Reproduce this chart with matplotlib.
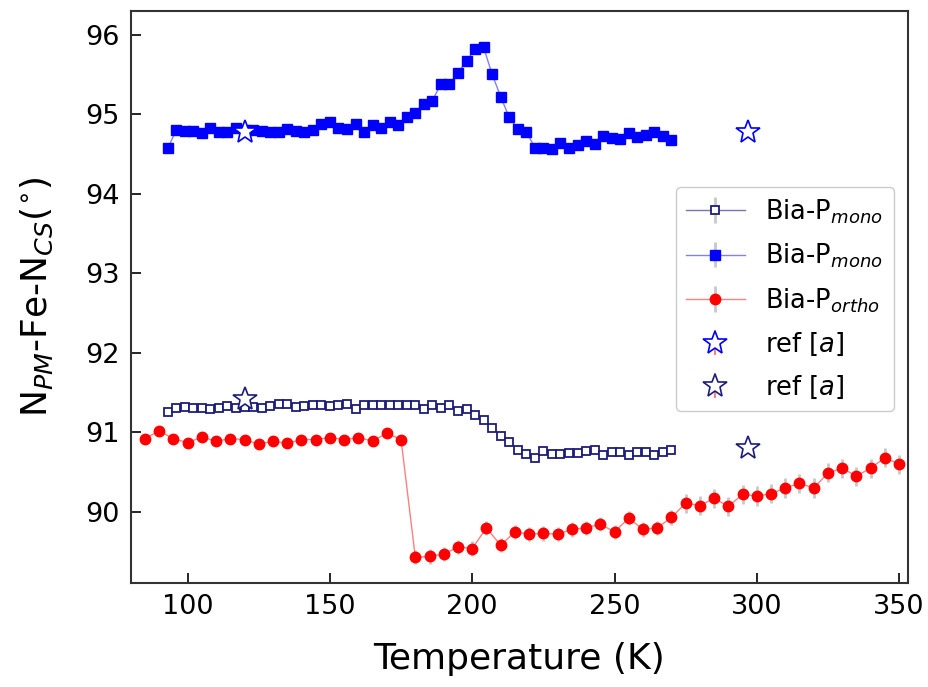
import numpy as np
import matplotlib
matplotlib.use("Agg")
import matplotlib.pyplot as plt

# temperatures (K)
T_mono = np.arange(93, 271, 3)
T_ortho = np.arange(85, 351, 5)

# open squares (navy)
mono_open = [91.26, 91.31, 91.32, 91.31, 91.31, 91.29, 91.31, 91.33, 91.31, 91.32,
             91.32, 91.31, 91.33, 91.36, 91.36, 91.32, 91.33, 91.35, 91.34, 91.33,
             91.34, 91.36, 91.29, 91.35, 91.35, 91.35, 91.35, 91.35, 91.34, 91.34,
             91.29, 91.35, 91.30, 91.35, 91.27, 91.29, 91.22, 91.15, 91.06, 90.95,
             90.88, 90.78, 90.73, 90.68, 90.76, 90.73, 90.73, 90.74, 90.74, 90.77,
             90.78, 90.71, 90.75, 90.75, 90.71, 90.75, 90.75, 90.71, 90.75, 90.78]
mono_open_err = [0.03] * len(mono_open)

# filled squares (blue)
mono_fill = [94.57, 94.80, 94.79, 94.79, 94.76, 94.82, 94.78, 94.78, 94.83, 94.80,
             94.80, 94.79, 94.78, 94.78, 94.81, 94.79, 94.77, 94.80, 94.87, 94.90,
             94.83, 94.81, 94.87, 94.78, 94.86, 94.83, 94.90, 94.86, 94.96, 95.01,
             95.13, 95.17, 95.38, 95.38, 95.52, 95.67, 95.82, 95.84, 95.50, 95.22,
             94.96, 94.81, 94.78, 94.58, 94.57, 94.56, 94.64, 94.58, 94.61, 94.66,
             94.63, 94.72, 94.70, 94.69, 94.76, 94.71, 94.74, 94.78, 94.73, 94.68]
mono_fill_err = [0.04] * len(mono_fill)

# ortho (red circles)
ortho = [90.92, 91.02, 90.92, 90.87, 90.94, 90.89, 90.92, 90.91, 90.85, 90.89,
         90.86, 90.91, 90.91, 90.935, 90.91, 90.935, 90.89, 90.99, 90.91,
         89.43, 89.44, 89.47, 89.56, 89.54, 89.80, 89.58, 89.75, 89.72, 89.73,
         89.72, 89.78, 89.80, 89.845, 89.75, 89.92, 89.78, 89.80, 89.93,
         90.11, 90.08, 90.17, 90.07, 90.22, 90.20, 90.23, 90.30, 90.36, 90.30,
         90.49, 90.55, 90.45, 90.55, 90.68, 90.60]
ortho_err = [0.05] * 19 + [0.09] * 19 + [0.12] * 16

# reference values [a]
T_ref = [120, 297]
ref_fill = [94.78, 94.78]
ref_open = [91.42, 90.80]
ref_err = [0.05, 0.05]

fig = plt.figure(figsize=(9.29, 6.87), dpi=100)
ax = fig.add_axes([0.1407, 0.1518, 0.8363, 0.8326])

ecol = '#c8c8c8'
navy = '#1c1c7a'
l1 = ax.errorbar(T_mono, mono_open, yerr=mono_open_err, fmt='-s', color=navy,
                 mfc='white', mec=navy, ms=6.3, mew=1.3, lw=1,
                 ecolor=ecol, elinewidth=2, label=r'Bia-P$_{mono}$')
l1[0].set_color((0.11, 0.11, 0.48, 0.6))
l1[0].set_markeredgecolor(navy)
l2 = ax.errorbar(T_mono, mono_fill, yerr=mono_fill_err, fmt='-s', color='#0000ff',
                 ms=6.8, lw=1, ecolor=ecol, elinewidth=2, label=r'Bia-P$_{mono}$')
l2[0].set_color((0, 0, 1, 0.5))
l2[0].set_markeredgecolor('#0000ff')
l2[0].set_markerfacecolor('#0000ff')
l3 = ax.errorbar(T_ortho, ortho, yerr=ortho_err, fmt='-o', color='#ff0000',
                 ms=7.5, lw=1, ecolor=ecol, elinewidth=2, label=r'Bia-P$_{ortho}$')
l3[0].set_color((1, 0, 0, 0.5))
l3[0].set_markeredgecolor('#ff0000')
l3[0].set_markerfacecolor('#ff0000')
ax.errorbar(T_ref, ref_fill, yerr=ref_err, fmt='*', mfc='white', mec='#0000ff',
            ms=18, mew=1.2, ecolor='#ff8080', elinewidth=1.5, label=r'ref [$a$]')
ax.errorbar(T_ref, ref_open, yerr=ref_err, fmt='*', mfc='white', mec=navy,
            ms=18, mew=1.2, ecolor='#ff8080', elinewidth=1.5, label=r'ref [$a$]')

ax.set_xlim(80, 353)
ax.set_ylim(89.11, 96.30)
ax.set_xticks([100, 150, 200, 250, 300, 350])
ax.set_yticks([90, 91, 92, 93, 94, 95, 96])
ax.tick_params(direction='in', length=7, width=1.2, labelsize=19.5, pad=8)
for s in ax.spines.values():
    s.set_linewidth(1.5)
    s.set_color('#333333')

ax.set_xlabel('Temperature (K)', fontsize=26, labelpad=16)
ax.set_ylabel(r'N$_{PM}$-Fe-N$_{CS}$($^{\circ}$)', fontsize=26, labelpad=22)

ax.legend(loc='upper right', bbox_to_anchor=(0.982, 0.692), borderaxespad=0,
          fontsize=18.5, handlelength=2.3, labelspacing=0.62, framealpha=1,
          edgecolor='#cccccc')

fig.savefig('out.png', dpi=100)
